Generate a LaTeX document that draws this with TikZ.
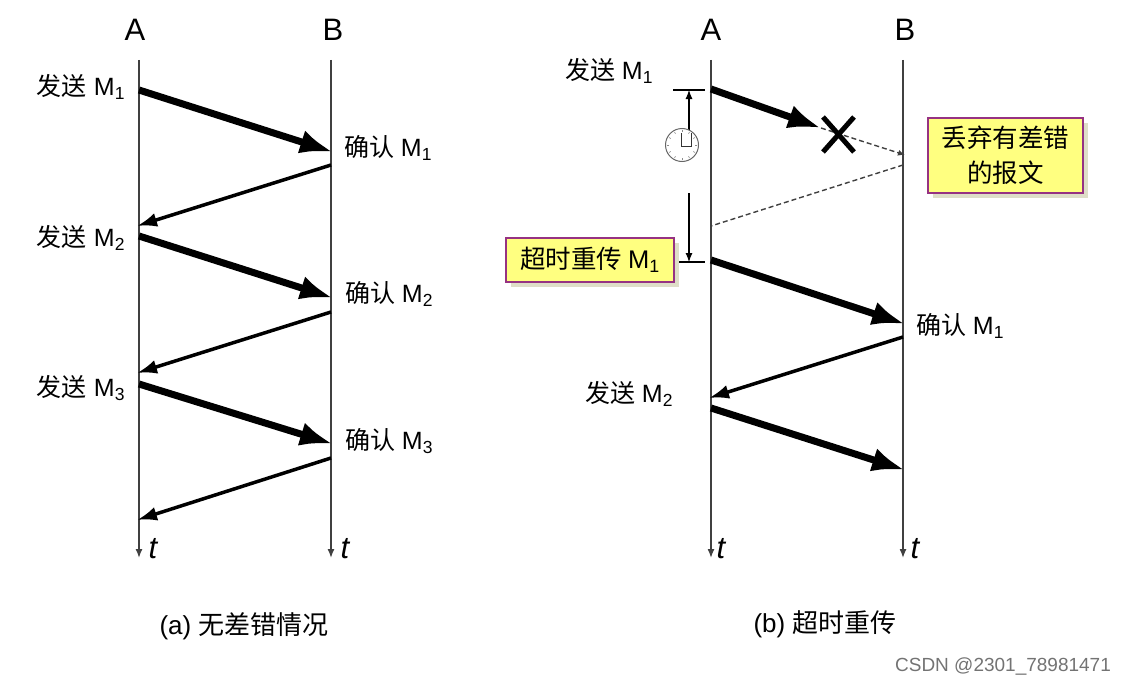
\documentclass[tikz,border=0pt]{standalone}
\usepackage{fontspec}
\setmainfont{Liberation Sans}
\newfontfamily\cjk{Noto Sans CJK SC}
\usetikzlibrary{arrows.meta, calc, shadows}

\definecolor{notefill}{RGB}{255,255,128}
\definecolor{noteedge}{RGB}{150,50,130}
\definecolor{noteshade}{RGB}{222,222,200}
\newcommand{\msg}[2]{{\cjk #1} M\textsubscript{#2}}

\begin{document}
\begin{tikzpicture}[
        x = 1pt, y = -1pt,
        >= {Latex[length = 9pt, width = 7pt]},
        lifeline/.style = {->, line width = 1.4pt, black!75},
        datamsg/.style = {-{Latex[length = 33pt, width = 24pt]}, line width = 7pt},
        ackmsg/.style = {-{Latex[length = 20pt, width = 14pt]}, line width = 3.5pt},
        lostmsg/.style = {dash pattern = on 5pt off 3pt, line width = 1.4pt, black!75},
        timer/.style = {line width = 1.1pt},
        label/.style = {font = \fontsize{25}{28}\selectfont, inner sep = 0pt},
        head/.style = {font = \fontsize{31}{34}\selectfont, inner sep = 0pt},
        timeunit/.style = {font = \fontsize{31}{34}\selectfont\itshape, inner sep = 0pt},
        caption/.style = {font = \fontsize{26}{29}\selectfont, inner sep = 0pt},
        note/.style = {draw = noteedge, line width = 1.2pt, fill = notefill, align = center,
            font = \fontsize{25.5}{35}\selectfont\cjk, inner sep = 0pt,
            drop shadow = {shadow xshift = 5pt, shadow yshift = -5pt, fill = noteshade, opacity = 1}}
    ]
        \useasboundingbox (0, 0) rectangle (1124, 685);

        % lifelines
        \coordinate (aTop) at (139, 60);   \coordinate (aEnd) at (139, 558);
        \coordinate (bTop) at (331, 60);   \coordinate (bEnd) at (331, 558);
        \coordinate (cTop) at (711, 60);   \coordinate (cEnd) at (711, 558);
        \coordinate (dTop) at (903, 60);   \coordinate (dEnd) at (903, 558);
        \draw[lifeline] (aTop) -- (aEnd);
        \draw[lifeline] (bTop) -- (bEnd);
        \draw[lifeline] (cTop) -- (cEnd);
        \draw[lifeline] (dTop) -- (dEnd);

        \node[head] (headA1) at (135, 30) {A};
        \node[head] (headB1) at (333, 30) {B};
        \node[head] (headA2) at (711, 30) {A};
        \node[head] (headB2) at (905, 30) {B};
        \node[timeunit] (tA1) at (153, 549) {t};
        \node[timeunit] (tB1) at (345, 549) {t};
        \node[timeunit] (tA2) at (721, 549) {t};
        \node[timeunit] (tB2) at (915, 549) {t};

        % (a)
        \coordinate (s1) at (139, 90);    \coordinate (r1) at (333, 152);
        \coordinate (k1) at (331, 165);   \coordinate (j1) at (137, 226);
        \coordinate (s2) at (139, 236);   \coordinate (r2) at (333, 298);
        \coordinate (k2) at (331, 312);   \coordinate (j2) at (137, 373);
        \coordinate (s3) at (139, 384);   \coordinate (r3) at (333, 444);
        \coordinate (k3) at (331, 458);   \coordinate (j3) at (137, 520);
        \draw[datamsg] (s1) -- (r1);
        \draw[ackmsg] (k1) -- (j1);
        \draw[datamsg] (s2) -- (r2);
        \draw[ackmsg] (k2) -- (j2);
        \draw[datamsg] (s3) -- (r3);
        \draw[ackmsg] (k3) -- (j3);

        \node[label] (send1) at (81, 87) {\msg{发送}{1}};
        \node[label] (send2) at (81, 238) {\msg{发送}{2}};
        \node[label] (send3) at (81, 388) {\msg{发送}{3}};
        \node[label] (ack1) at (388, 148) {\msg{确认}{1}};
        \node[label] (ack2) at (389, 294) {\msg{确认}{2}};
        \node[label] (ack3) at (389, 441) {\msg{确认}{3}};
        \node[caption] (capA) at (244, 626) {(a) {\cjk 无差错情况}};

        % (b)
        \coordinate (t1) at (711, 89);    \coordinate (lost) at (821, 128);
        \coordinate (drop) at (905, 155);
        \coordinate (fake) at (903, 165); \coordinate (fakeEnd) at (711, 226);
        \coordinate (t2) at (711, 260);   \coordinate (u2) at (905, 324);
        \coordinate (k4) at (903, 337);   \coordinate (j4) at (709, 398);
        \coordinate (t3) at (711, 408);   \coordinate (u3) at (905, 470);
        \draw[datamsg] (t1) -- (lost);
        \draw[lostmsg, -{Latex[length = 7pt, width = 6pt]}] (lost) -- (drop);
        \draw[lostmsg] (fake) -- (fakeEnd);
        \draw[datamsg] (t2) -- (u2);
        \draw[ackmsg] (k4) -- (j4);
        \draw[datamsg] (t3) -- (u3);

        % cross over the lost frame
        \coordinate (crossA) at (823, 117);  \coordinate (crossB) at (854, 152);
        \coordinate (crossC) at (854, 117);  \coordinate (crossD) at (823, 152);
        \draw[line width = 5pt] (crossA) -- (crossB);
        \draw[line width = 5pt] (crossC) -- (crossD);

        % timeout span and clock
        \coordinate (tickA) at (673, 90);    \coordinate (tickB) at (705, 90);
        \coordinate (tickC) at (674, 262);   \coordinate (tickD) at (705, 262);
        \coordinate (spanA) at (689, 135);   \coordinate (spanB) at (689, 90);
        \coordinate (spanC) at (689, 193);   \coordinate (spanD) at (689, 262);
        \draw[timer] (tickA) -- (tickB);
        \draw[timer] (tickC) -- (tickD);
        \draw[timer, ->] (spanA) -- (spanB);
        \draw[timer, ->] (spanC) -- (spanD);

        \node[circle, draw = black!60, line width = 1pt, fill = white, minimum size = 33pt, inner sep = 0pt] (clock) at (682, 145) {};
        \foreach \a in {0, 30, ..., 330}
            \draw[black!45, line width = .6pt] ($(clock.center) + (\a:13pt)$) -- ($(clock.center) + (\a:15pt)$);
        \draw[line width = .9pt, black!80] (681, 133) -- (681, 146) -- (691, 146) -- (691, 133);

        \node[label] (send4) at (609, 71) {\msg{发送}{1}};
        \node[label] (send5) at (629, 394) {\msg{发送}{2}};
        \node[label] (ack4) at (960, 326) {\msg{确认}{1}};
        \node[caption] (capB) at (825, 624) {(b) {\cjk 超时重传}};

        \node[note, minimum width = 155pt, minimum height = 75pt] (noteDrop) at (1005.5, 155.5) {丢弃有差错\\的报文};
        \node[note, minimum width = 168pt, minimum height = 44pt] (noteRetry) at (590, 260) {超时重传 {\fontspec{Liberation Sans}M\textsubscript{1}}};

        \node[font = \fontsize{19}{21}\selectfont, text = black!55, inner sep = 0pt] (mark) at (1003, 666) {CSDN @2301\_78981471};
    \end{tikzpicture}
\end{document}
